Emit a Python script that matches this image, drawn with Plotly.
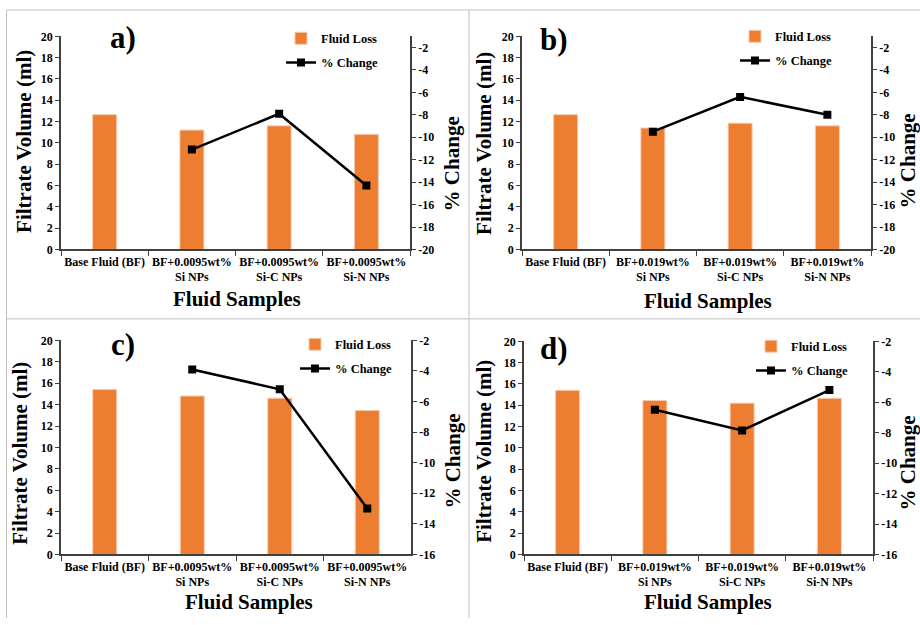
import plotly.graph_objects as go

W, H = 920, 625
ORANGE = "#ED7D31"
FONT = "Liberation Serif"
AXIS_COLOR = "#404040"

# ---------------- data ----------------
categories_0095 = ["Base Fluid (BF)", "BF+0.0095wt%<br>Si NPs",
                   "BF+0.0095wt%<br>Si-C NPs", "BF+0.0095wt%<br>Si-N NPs"]
categories_019 = ["Base Fluid (BF)", "BF+0.019wt%<br>Si NPs",
                  "BF+0.019wt%<br>Si-C NPs", "BF+0.019wt%<br>Si-N NPs"]

fluid_loss_a = [12.65, 11.2, 11.6, 10.8]
change_a = [-11.1, -7.9, -14.3]
fluid_loss_b = [12.65, 11.4, 11.85, 11.6]
change_b = [-9.5, -6.4, -8.0]
fluid_loss_c = [15.4, 14.8, 14.6, 13.45]
change_c = [-3.9, -5.2, -13.0]
fluid_loss_d = [15.4, 14.45, 14.2, 14.65]
change_d = [-6.5, -7.85, -5.2]

left_ticks = [0, 2, 4, 6, 8, 10, 12, 14, 16, 18, 20]
right_ticks_ab = [-20, -18, -16, -14, -12, -10, -8, -6, -4, -2]
right_ticktext_ab = ["-20", "-18", "-16", "-14", "-12", "-10", "-8", "-6", "-4", "-2"]
right_ticks_cd = [-16, -14, -12, -10, -8, -6, -4, -2]
right_ticktext_cd = ["-16", "-14", "-12", "-10", "-8", "-6", "-4", "-2"]
right_range_ab = [-20, -1]
right_range_cd = [-16, -2]

panel_labels = ["a)", "b)", "c)", "d)"]
bar_name = "Fluid Loss"
line_name = "% Change"
x_title = "Fluid Samples"
y_title = "Filtrate Volume (ml)"
y2_title = "% Change"

# ---------------- layout helpers (pixel boxes) ----------------
panels = [
    dict(cats=categories_0095, bars=fluid_loss_a, chg=change_a, rr=right_range_ab,
         rt=right_ticks_ab, rtt=right_ticktext_ab,
         box=(61, 410, 30, 248), lab=(123, 31), ytl=(24, 138), xtl=(237, 299), y2t=(452, 161),
         leg=(281, 17)),
    dict(cats=categories_019, bars=fluid_loss_b, chg=change_b, rr=right_range_ab,
         rt=right_ticks_ab, rtt=right_ticktext_ab,
         box=(522, 871, 30, 248), lab=(554, 33), ytl=(484, 139), xtl=(708, 301), y2t=(908, 158),
         leg=(735, 15)),
    dict(cats=categories_0095, bars=fluid_loss_c, chg=change_c, rr=right_range_cd,
         rt=right_ticks_cd, rtt=right_ticktext_cd,
         box=(61, 411, 341, 560), lab=(123, 345), ytl=(20, 457), xtl=(249, 609), y2t=(453, 465),
         leg=(295, 330)),
    dict(cats=categories_019, bars=fluid_loss_d, chg=change_d, rr=right_range_cd,
         rt=right_ticks_cd, rtt=right_ticktext_cd,
         box=(524, 873, 342, 560), lab=(554, 349), ytl=(484, 454), xtl=(708, 609), y2t=(908, 467),
         leg=(751, 332)),
]


def px(x):
    return x / W


def py(y):
    return 1 - y / H


fig = go.Figure()
annotations = []
layout = {}

tick_font = dict(family=FONT, size=12, color="black", weight="bold")
xtick_font = dict(family=FONT, size=12, color="black", weight="bold")
title_font = dict(family=FONT, size=21, color="black", weight="bold")

for i, p in enumerate(panels):
    n = i + 1
    xa = "x" if n == 1 else f"x{n}"
    ya = "y" if n == 1 else f"y{2 * n - 1}"
    ya2 = f"y{2 * n}"
    xkey = "xaxis" if n == 1 else f"xaxis{n}"
    ykey = "yaxis" if n == 1 else f"yaxis{2 * n - 1}"
    y2key = f"yaxis{2 * n}"
    legkey = "legend" if n == 1 else f"legend{n}"

    x0, x1, y0, y1 = p["box"]

    fig.add_trace(go.Bar(
        x=p["cats"], y=p["bars"], name=bar_name, xaxis=xa, yaxis=ya,
        marker=dict(color=ORANGE, line=dict(color="#F8CBAD", width=1)),
        width=0.275, legend=legkey, legendgroup=f"bar{n}",
    ))
    fig.add_trace(go.Scatter(
        x=p["cats"][1:], y=p["chg"], name=line_name, xaxis=xa, yaxis=ya2,
        mode="lines+markers", line=dict(color="black", width=2.5),
        marker=dict(symbol="square", size=8, color="black"),
        legend=legkey, legendgroup=f"line{n}",
    ))

    layout[xkey] = dict(
        domain=[px(x0), px(x1)], anchor=ya, type="category",
        range=[-0.5, 3.5], tickson="boundaries", ticks="outside", ticklen=5,
        tickcolor=AXIS_COLOR, showline=True, linecolor=AXIS_COLOR, linewidth=1.5,
        showgrid=False, tickfont=xtick_font, tickangle=0, zeroline=False,
    )
    layout[ykey] = dict(
        domain=[py(y1), py(y0)], anchor=xa, range=[0, 20],
        tickvals=left_ticks, ticks="outside", ticklen=4, tickcolor=AXIS_COLOR,
        showline=True, linecolor=AXIS_COLOR, linewidth=1.5, showgrid=False,
        zeroline=False, tickfont=tick_font,
    )
    layout[y2key] = dict(
        overlaying=ya, anchor=xa, side="right", range=p["rr"],
        tickvals=p["rt"], ticktext=p["rtt"], ticks="outside", ticklen=4,
        tickcolor=AXIS_COLOR, showline=True, linecolor=AXIS_COLOR, linewidth=1.5,
        showgrid=False, zeroline=False, tickfont=tick_font,
    )
    lx, ly = p["leg"]
    layout[legkey] = dict(
        x=px(lx), y=py(ly), xanchor="left", yanchor="top",
        bgcolor="rgba(0,0,0,0)", traceorder="grouped", tracegroupgap=5,
        font=dict(family=FONT, size=12.5, color="black", weight="bold"),
    )

    annotations.append(dict(
        text=panel_labels[i], x=px(p["lab"][0]), y=py(p["lab"][1]), xref="paper", yref="paper",
        showarrow=False, xanchor="center", yanchor="middle",
        font=dict(family=FONT, size=31, color="black", weight="bold"),
    ))
    annotations.append(dict(
        text=y_title, x=px(p["ytl"][0]), y=py(p["ytl"][1]), xref="paper", yref="paper",
        showarrow=False, xanchor="center", yanchor="middle", textangle=-90, font=title_font,
    ))
    annotations.append(dict(
        text=x_title, x=px(p["xtl"][0]), y=py(p["xtl"][1]), xref="paper", yref="paper",
        showarrow=False, xanchor="center", yanchor="middle", font=title_font,
    ))
    annotations.append(dict(
        text=y2_title, x=px(p["y2t"][0]), y=py(p["y2t"][1]), xref="paper", yref="paper",
        showarrow=False, xanchor="center", yanchor="middle", textangle=-90, font=title_font,
    ))

# panel border lines
border = dict(color="#BFBFBF", width=1)
shapes = [
    dict(type="line", xref="paper", yref="paper", x0=px(6.5), x1=1, y0=py(3), y1=py(3), line=border),
    dict(type="line", xref="paper", yref="paper", x0=px(6.5), x1=px(6.5), y0=py(3), y1=0, line=border),
    dict(type="line", xref="paper", yref="paper", x0=px(469), x1=px(469), y0=py(3), y1=0, line=border),
    dict(type="line", xref="paper", yref="paper", x0=px(6.5), x1=1, y0=py(319), y1=py(319), line=border),
]

fig.update_layout(
    width=W, height=H, margin=dict(l=0, r=0, t=0, b=0),
    paper_bgcolor="white", plot_bgcolor="rgba(0,0,0,0)",
    showlegend=True, barmode="overlay",
    annotations=annotations, shapes=shapes, **layout,
)

fig.write_html("out.html")
